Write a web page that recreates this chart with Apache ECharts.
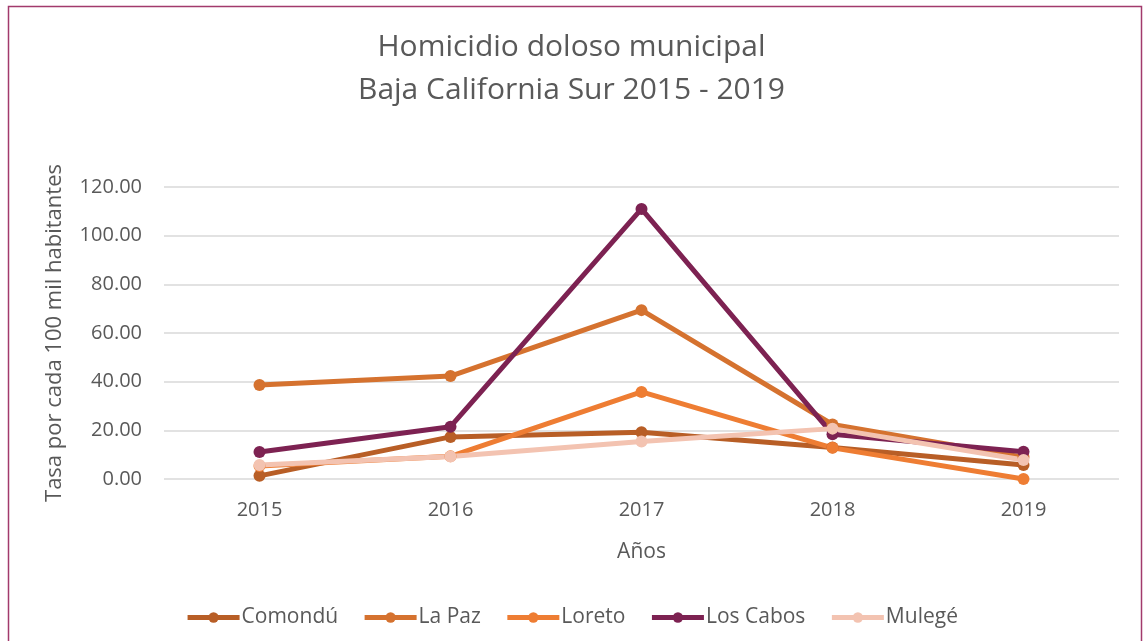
<!DOCTYPE html>
<html>
<head>
<meta charset="utf-8">
<script src="https://cdn.jsdelivr.net/npm/echarts@6/dist/echarts.min.js"></script>
<style>
  html, body { margin: 0; padding: 0; background: #fff; }
  #chart { width: 1143px; height: 641px; }
</style>
</head>
<body>
<div id="chart"></div>
<script>
const years = ['2015', '2016', '2017', '2018', '2019']
const comondu = [1.3, 17.3, 19.2, 12.9, 5.8]
const laPaz = [38.6, 42.3, 69.4, 22.4, 9.0]
const loreto = [5.3, 9.3, 35.8, 12.8, 0.0]
const losCabos = [11.1, 21.5, 111.0, 18.4, 11.2]
const mulege = [5.8, 9.2, 15.4, 20.7, 7.8]

const seriesDefs = [
  { name: 'Comondú', data: comondu, color: '#B85E26' },
  { name: 'La Paz', data: laPaz, color: '#D5722F' },
  { name: 'Loreto', data: loreto, color: '#EE7D33' },
  { name: 'Los Cabos', data: losCabos, color: '#7D2252' },
  { name: 'Mulegé', data: mulege, color: '#F3C3B1' }
]

const font = '"Open Sans", sans-serif'
const grey = '#595959'

const chart = echarts.init(document.getElementById('chart'))

chart.setOption({
  animation: false,
  textStyle: { fontFamily: font },
  graphic: [
    {
      type: 'rect',
      shape: { x: 8.5, y: 6.5, width: 1133, height: 700 },
      style: { fill: 'none', stroke: '#A23A6C', lineWidth: 1.5 },
      silent: true
    }
  ],
  title: {
    text: 'Homicidio doloso municipal\nBaja California Sur 2015 - 2019',
    left: 'center',
    top: 21,
    textStyle: { fontFamily: font, fontSize: 30, fontWeight: 'normal', color: grey, lineHeight: 43 }
  },
  legend: {
    top: 602,
    itemWidth: 52,
    itemHeight: 13,
    itemGap: 24,
    lineStyle: { width: 5 },
    textStyle: { fontFamily: font, fontSize: 21, color: grey, padding: [0, 0, 0, -3] }
  },
  grid: { left: 164, right: 24, top: 187, height: 292 },
  xAxis: {
    type: 'category',
    data: years,
    name: 'Años',
    nameLocation: 'middle',
    nameGap: 63,
    nameTextStyle: { fontSize: 21, color: grey },
    axisLine: { show: false },
    axisTick: { show: false },
    axisLabel: { fontSize: 20, color: grey, margin: 21 }
  },
  yAxis: {
    type: 'value',
    min: 0,
    max: 120,
    interval: 20,
    name: 'Tasa por cada 100 mil habitantes',
    nameLocation: 'middle',
    nameGap: 98,
    nameTextStyle: { fontSize: 22, color: grey },
    axisLine: { show: false },
    axisTick: { show: false },
    axisLabel: { fontSize: 20, color: grey, margin: 22, formatter: (v) => v.toFixed(2) },
    splitLine: { lineStyle: { color: '#D9D9D9', width: 1.5 } }
  },
  series: seriesDefs.map((s) => ({
    name: s.name,
    type: 'line',
    data: s.data,
    symbol: 'circle',
    symbolSize: 12,
    itemStyle: { color: s.color },
    lineStyle: { width: 5, color: s.color }
  }))
})
</script>
</body>
</html>
